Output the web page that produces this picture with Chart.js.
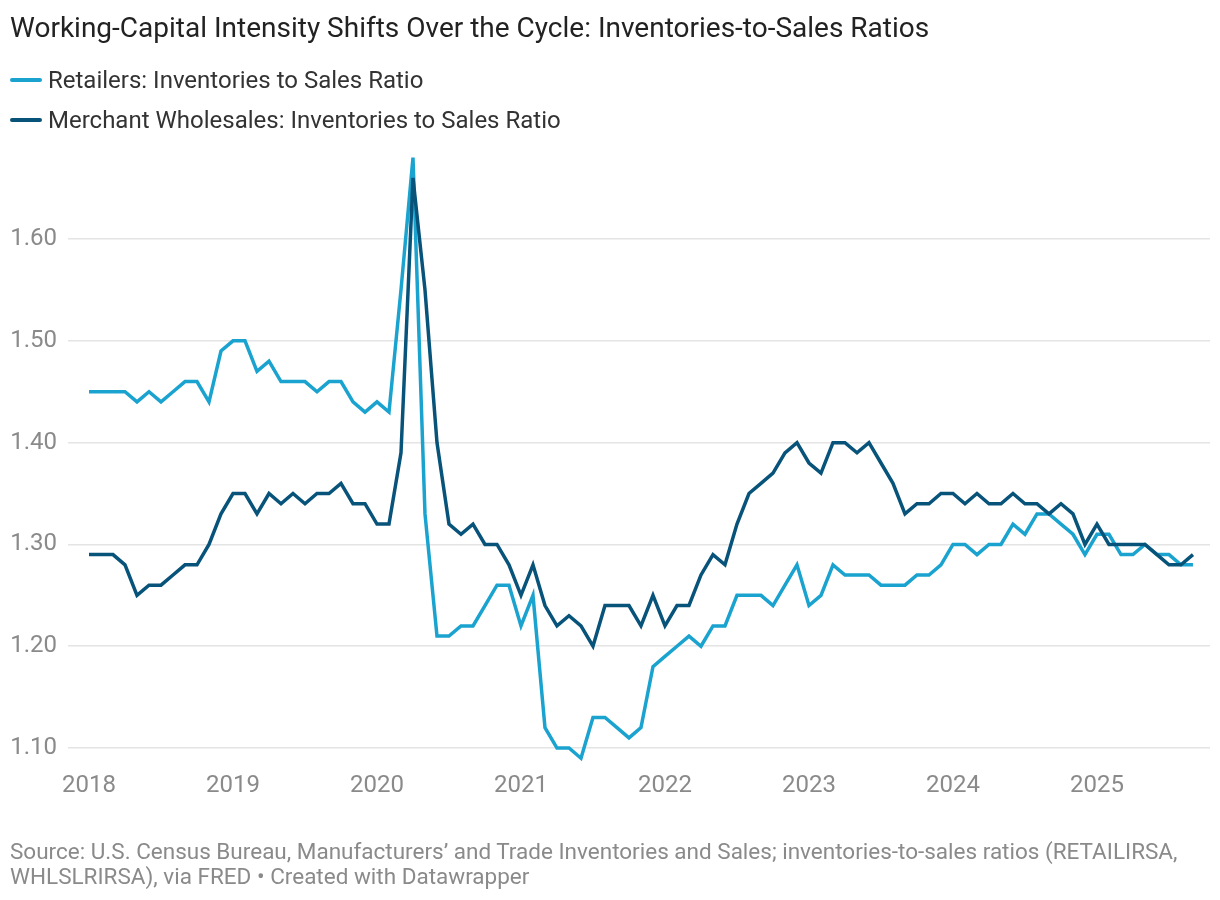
<!DOCTYPE html>
<html>
<head>
<meta charset="utf-8">
<script src="https://cdn.jsdelivr.net/npm/chart.js@4"></script>
<style>
  html, body { margin: 0; padding: 0; background: #fff; }
  body { width: 1220px; height: 900px; position: relative; overflow: hidden; font-family: Roboto, "Noto Sans", sans-serif; }
  #chart { position: absolute; left: 0; top: 0; }
  .title { position: absolute; left: 10px; top: 11px; font-size: 28px; line-height: 1.2; color: #222; white-space: nowrap; }
  .leg { position: absolute; left: 10px; font-size: 24px; line-height: 24px; color: #333; white-space: nowrap; }
  .leg span.sw { display: inline-block; width: 32px; height: 4px; vertical-align: middle; margin-right: 6px; position: relative; top: -2px; border-radius: 2px; }
  .foot { position: absolute; left: 10px; top: 839px; font-size: 22.5px; line-height: 25px; color: #8a8a8a; white-space: nowrap; }
</style>
</head>
<body>
<canvas id="chart" width="1220" height="900"></canvas>
<div class="title">Working-Capital Intensity Shifts Over the Cycle: Inventories-to-Sales Ratios</div>
<div class="leg" style="top:68px"><span class="sw" style="background:#1ba3d0"></span>Retailers: Inventories to Sales Ratio</div>
<div class="leg" style="top:108px"><span class="sw" style="background:#08537a"></span>Merchant Wholesales: Inventories to Sales Ratio</div>
<div class="foot">Source: U.S. Census Bureau, Manufacturers’ and Trade Inventories and Sales; inventories-to-sales ratios (RETAILIRSA,<br>WHLSLRIRSA), via FRED • Created with Datawrapper</div>
<script>
// Monthly values, Jan 2018 .. Sep 2025
const retailers = [
  1.45,1.45,1.45,1.45,1.44,1.45,1.44,1.45,1.46,1.46,1.44,1.49,
  1.50,1.50,1.47,1.48,1.46,1.46,1.46,1.45,1.46,1.46,1.44,1.43,
  1.44,1.43,1.55,1.68,1.33,1.21,1.21,1.22,1.22,1.24,1.26,1.26,
  1.22,1.25,1.12,1.10,1.10,1.09,1.13,1.13,1.12,1.11,1.12,1.18,
  1.19,1.20,1.21,1.20,1.22,1.22,1.25,1.25,1.25,1.24,1.26,1.28,
  1.24,1.25,1.28,1.27,1.27,1.27,1.26,1.26,1.26,1.27,1.27,1.28,
  1.30,1.30,1.29,1.30,1.30,1.32,1.31,1.33,1.33,1.32,1.31,1.29,
  1.31,1.31,1.29,1.29,1.30,1.29,1.29,1.28,1.28
];
const wholesalers = [
  1.29,1.29,1.29,1.28,1.25,1.26,1.26,1.27,1.28,1.28,1.30,1.33,
  1.35,1.35,1.33,1.35,1.34,1.35,1.34,1.35,1.35,1.36,1.34,1.34,
  1.32,1.32,1.39,1.66,1.55,1.40,1.32,1.31,1.32,1.30,1.30,1.28,
  1.25,1.28,1.24,1.22,1.23,1.22,1.20,1.24,1.24,1.24,1.22,1.25,
  1.22,1.24,1.24,1.27,1.29,1.28,1.32,1.35,1.36,1.37,1.39,1.40,
  1.38,1.37,1.40,1.40,1.39,1.40,1.38,1.36,1.33,1.34,1.34,1.35,
  1.35,1.34,1.35,1.34,1.34,1.35,1.34,1.34,1.33,1.34,1.33,1.30,
  1.32,1.30,1.30,1.30,1.30,1.29,1.28,1.28,1.29
];
const yearLabels = ['2018','2019','2020','2021','2022','2023','2024','2025'];
const yTickValues = [1.10, 1.20, 1.30, 1.40, 1.50, 1.60];
const seriesNames = ['Retailers: Inventories to Sales Ratio', 'Merchant Wholesales: Inventories to Sales Ratio'];

const toPoints = arr => arr.map((v, i) => ({ x: i, y: v }));

new Chart(document.getElementById('chart'), {
  type: 'line',
  data: {
    datasets: [
      { label: seriesNames[1], data: toPoints(wholesalers), borderColor: '#08537a', borderWidth: 3.5, pointRadius: 0, tension: 0, fill: false },
      { label: seriesNames[0], data: toPoints(retailers), borderColor: '#1ba3d0', borderWidth: 3.5, pointRadius: 0, tension: 0, fill: false }
    ]
  },
  options: {
    responsive: false,
    devicePixelRatio: 1,
    animation: false,
    layout: { padding: { top: 147.4, left: 0, right: 10, bottom: 91.6 } },
    plugins: { legend: { display: false }, tooltip: { enabled: false }, title: { display: false } },
    scales: {
      x: {
        type: 'linear',
        min: -1.75,
        max: 93.42,
        grid: { display: false, drawTicks: false },
        border: { display: false },
        afterBuildTicks: s => { s.ticks = yearLabels.map((_, i) => ({ value: i * 12 })); },
        afterFit: s => { s.height = 40; },
        ticks: {
          autoSkip: false, maxRotation: 0, padding: 3,
          color: '#8a8a8a', font: { family: 'Roboto', size: 24 },
          callback: v => yearLabels[Math.round(v / 12)]
        }
      },
      y: {
        min: 1.08,
        max: 1.69,
        grid: { color: '#e4e4e4', lineWidth: 1.5, drawTicks: false },
        border: { display: false },
        afterBuildTicks: s => { s.ticks = yTickValues.map(v => ({ value: v })); },
        afterFit: s => { s.width = 68; },
        ticks: {
          padding: 11,
          color: '#8a8a8a', font: { family: 'Roboto', size: 24 },
          callback: v => Number(v).toFixed(2)
        }
      }
    }
  }
});
</script>
</body>
</html>
